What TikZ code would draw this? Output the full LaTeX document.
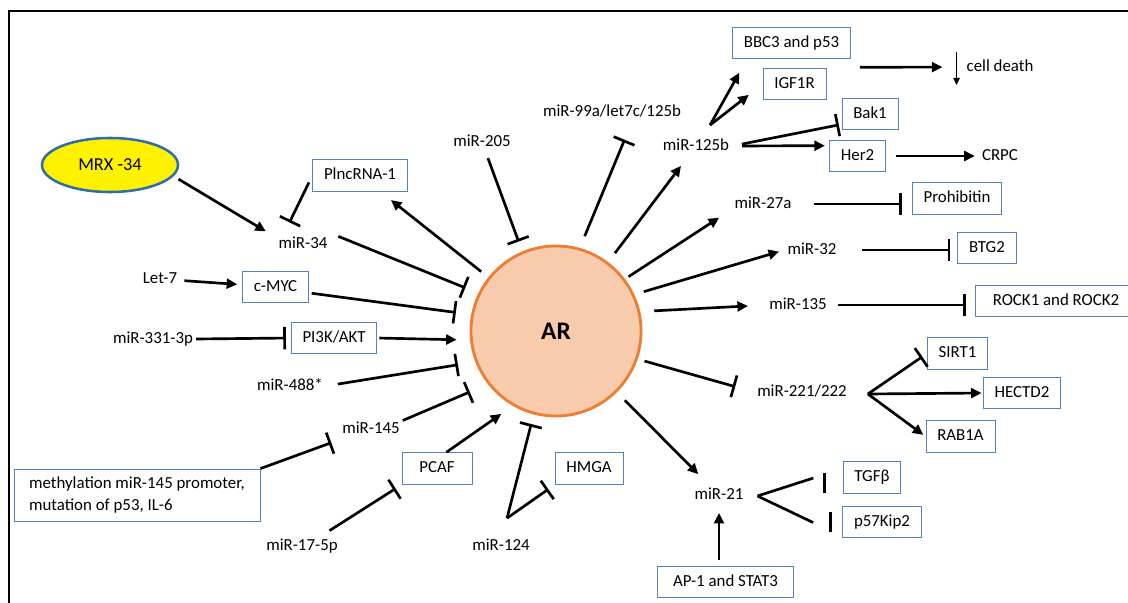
\documentclass[tikz,border=0pt]{standalone}
\usepackage{fontspec}
\setmainfont{Carlito}
\usepackage{tikz}
\usetikzlibrary{arrows.meta, shapes.geometric}

\definecolor{boxblue}{RGB}{84,130,185}
\definecolor{arfill}{RGB}{248,203,173}
\definecolor{arline}{RGB}{237,125,49}
\definecolor{mrxline}{RGB}{47,110,170}

\begin{document}
\begin{tikzpicture}[x=0.025cm, y=-0.025cm,
    every node/.style={font=\fontsize{12}{15}\selectfont},
    lbl/.style={inner sep=2pt, text height=8.5pt, text depth=2.5pt},
    genebox/.style={draw=boxblue, line width=0.6pt, inner xsep=8pt, inner ysep=3pt, minimum height=22.5pt, text height=8.5pt, text depth=2.5pt},
    act/.style={line width=1.9pt, -{Triangle[length=7.5pt,width=7pt]}},
    inh/.style={line width=1.9pt, -{Bar[width=16pt]}},
    link/.style={line width=1.9pt},
    barline/.style={line width=2.1pt}]
    \useasboundingbox (0,0) rectangle (1128,603);
    \draw[line width=1.4pt] (9,603) -- (9,11) -- (1128,11);

    % centre and the yellow one
    \node[circle, draw=arline, fill=arfill, line width=2pt, minimum size=4.25cm, inner sep=0pt,
          font=\fontsize{18}{20}\selectfont\bfseries] (ar) at (556,331) {AR};
    \node[ellipse, draw=mrxline, fill=yellow, line width=1.8pt, minimum width=3.4cm, minimum height=1.35cm,
          font=\fontsize{13}{15}\selectfont] (mrx) at (110,165) {MRX -34};

    % plain labels
    \node[lbl] (mir34) at (303,244) {miR-34};
    \node[lbl] (let7) at (160,279) {Let-7};
    \node[lbl] (mir331) at (153,339) {miR-331-3p};
    \node[lbl] (mir488) at (290,386) {miR-488*};
    \node[lbl] (mir145) at (371,429) {miR-145};
    \node[lbl] (mir175p) at (302,546) {miR-17-5p};
    \node[lbl] (mir124) at (501,546) {miR-124};
    \node[lbl] (mir205) at (482,142) {miR-205};
    \node[lbl] (mir99) at (612,112) {miR-99a/let7c/125b};
    \node[lbl] (mir125) at (696,146) {miR-125b};
    \node[lbl] (mir27) at (763,204) {miR-27a};
    \node[lbl] (mir32) at (812,250) {miR-32};
    \node[lbl] (mir135) at (798,305) {miR-135};
    \node[lbl] (mir221) at (802,392) {miR-221/222};
    \node[lbl] (mir21) at (719,495) {miR-21};
    \node[lbl] (celldeath) at (1000,67) {cell death};
    \node[lbl] (crpc) at (1000,156) {CRPC};

    % boxes
    \node[genebox] (plnc) at (360,175.5) {PlncRNA-1};
    \node[genebox] (cmyc) at (275.5,287) {c-MYC};
    \node[genebox] (pi3k) at (334,338) {PI3K/AKT};
    \node[draw=boxblue, line width=0.6pt, align=left, inner xsep=8pt, minimum width=6.15cm, minimum height=37pt]
        (meth) at (137,495) {methylation miR-145 promoter,\\mutation of p53, IL-6};
    \node[genebox, minimum width=1.75cm] (pcaf) at (437,468.5) {PCAF};
    \node[genebox] (hmga) at (589,468.5) {HMGA};
    \node[genebox, minimum width=3.4cm] (ap1) at (725.5,582) {AP-1 and STAT3};
    \node[genebox] (bbc3) at (791.5,43) {BBC3 and p53};
    \node[genebox] (igf1r) at (794.5,84) {IGF1R};
    \node[genebox] (bak1) at (870,114) {Bak1};
    \node[genebox] (her2) at (857.5,156) {Her2};
    \node[genebox] (prohib) at (957,198.5) {Prohibitin};
    \node[genebox] (btg2) at (987,248) {BTG2};
    \node[genebox, minimum width=4.05cm] (rock) at (1056,301) {ROCK1 and ROCK2};
    \node[genebox] (sirt1) at (957.5,353.5) {SIRT1};
    \node[genebox] (hectd2) at (1022,393) {HECTD2};
    \node[genebox] (rab1a) at (960.5,436.5) {RAB1A};
    \node[genebox] (tgfb) at (872,477.5) {TGFβ};
    \node[genebox] (p57) at (882,522) {p57Kip2};

    % left side, into AR
    \draw[act, shorten <=4pt, shorten >=8pt] (mrx.-10) -- (mir34.166);
    \draw[inh, shorten <=5.5pt, shorten >=8.5pt] (plnc.west) -- (mir34.150);
    \draw[act, shorten <=6.5pt, shorten >=9.5pt] (ar) -- (plnc);
    \draw[inh, shorten <=6pt, shorten >=10pt] (mir34.north east) -- (ar.154);
    \draw[act, shorten <=3pt, shorten >=3.5pt] (let7) -- (cmyc);
    \draw[inh, shorten <=2pt, shorten >=11pt] (cmyc.-10) -- (ar.169);
    \draw[inh, shorten >=3.5pt] (mir331.east) -- (pi3k.west);
    \draw[act, shorten <=1.5pt, shorten >=9.5pt] (pi3k.east) -- (ar.186);
    \draw[inh, shorten <=8.5pt, shorten >=12.5pt] (mir488.east) -- (ar.201);
    \draw[inh, shorten >=14pt] (mir145.15) -- (ar.218);
    \draw[inh, shorten >=6pt] (meth.north east) -- (mir145.south west);
    \draw[act, shorten >=10pt] (pcaf.60) -- (ar.240);
    \draw[inh, shorten <=6pt, shorten >=5pt] (mir175p.28) -- (pcaf.south west);
    \coordinate (b124) at ([shift={(6,-17)}]mir124.north);
    \draw[inh, shorten >=7pt] (b124) -- (ar.255);
    \draw[inh, shorten >=5.5pt] (b124) -- (hmga.south west);

    % top
    \draw[inh, shorten <=4pt, shorten >=7.5pt] (mir205) -- (ar.113);
    \draw[inh, shorten <=9pt, shorten >=13pt] (ar.74) -- (mir99.-29);
    \draw[act, shorten <=8pt, shorten >=8pt] (ar) -- (mir125);
    \coordinate (b125) at ([shift={(14,-10)}]mir125.north);
    \draw[act, shorten >=11pt] (b125) -- (bbc3.200);
    \draw[act, shorten >=12.5pt] (b125) -- (igf1r.west);
    \draw[inh, shorten <=7pt, shorten >=2pt] (mir125.east) -- (bak1.200);
    \draw[act, shorten <=7pt, shorten >=3pt] (mir125.east) -- (her2.160);
    \draw[act, shorten <=7pt, shorten >=3pt] (her2) -- (crpc);
    \coordinate (cd) at ([shift={(9,8)}]bbc3.south east);
    \draw[act, shorten >=15pt] (cd) -- (celldeath);
    \draw[line width=1pt, -{Triangle[length=5pt,width=4.5pt]}]
        ([shift={(-7,-15)}]celldeath.west) -- ([shift={(-7,18)}]celldeath.west);

    % right side
    \draw[act, shorten <=3pt, shorten >=10.5pt] (ar.37) -- (mir27.190);
    \draw[inh, shorten <=14pt, shorten >=7pt] (mir27.east) -- (mir27.east -| prohib.west);
    \draw[act, shorten <=7pt, shorten >=4pt] (ar.25) -- (mir32.west);
    \draw[inh, shorten <=16pt, shorten >=5pt] (mir32.east) -- (mir32.east -| btg2.west);
    \draw[act, shorten <=10pt, shorten >=13pt] (ar.13) -- (mir135.west);
    \draw[inh, shorten <=6pt, shorten >=6pt] (mir135.east) -- (mir135.east -| rock.west);
    \draw[inh, shorten <=5pt, shorten >=14pt] (ar.-19) -- (mir221.west);
    \coordinate (b221) at ([shift={(18,2)}]mir221.east);
    \draw[inh, shorten >=4pt] (b221) -- (sirt1.west);
    \draw[act, shorten >=1pt] (b221) -- (hectd2.west);
    \draw[act, shorten >=2pt] (b221) -- (rab1a.west);

    % bottom right
    \draw[act, shorten <=8pt, shorten >=10pt] (ar) -- (mir21);
    \draw[act, shorten <=4pt, shorten >=5pt] (mir21.south |- ap1.north) -- (mir21.south);
    \coordinate (b21) at ([shift={(11,1)}]mir21.east);
    \draw[link, shorten >=22pt] (b21) -- (tgfb.163);
    \draw[link, shorten >=23pt] (b21) -- (p57.200);
    \draw[barline] ([shift={(-18,-5)}]tgfb.west) -- ([shift={(-18,15)}]tgfb.west);
    \draw[barline] ([shift={(-12,-10)}]p57.west) -- ([shift={(-12,10)}]p57.west);
\end{tikzpicture}
\end{document}
